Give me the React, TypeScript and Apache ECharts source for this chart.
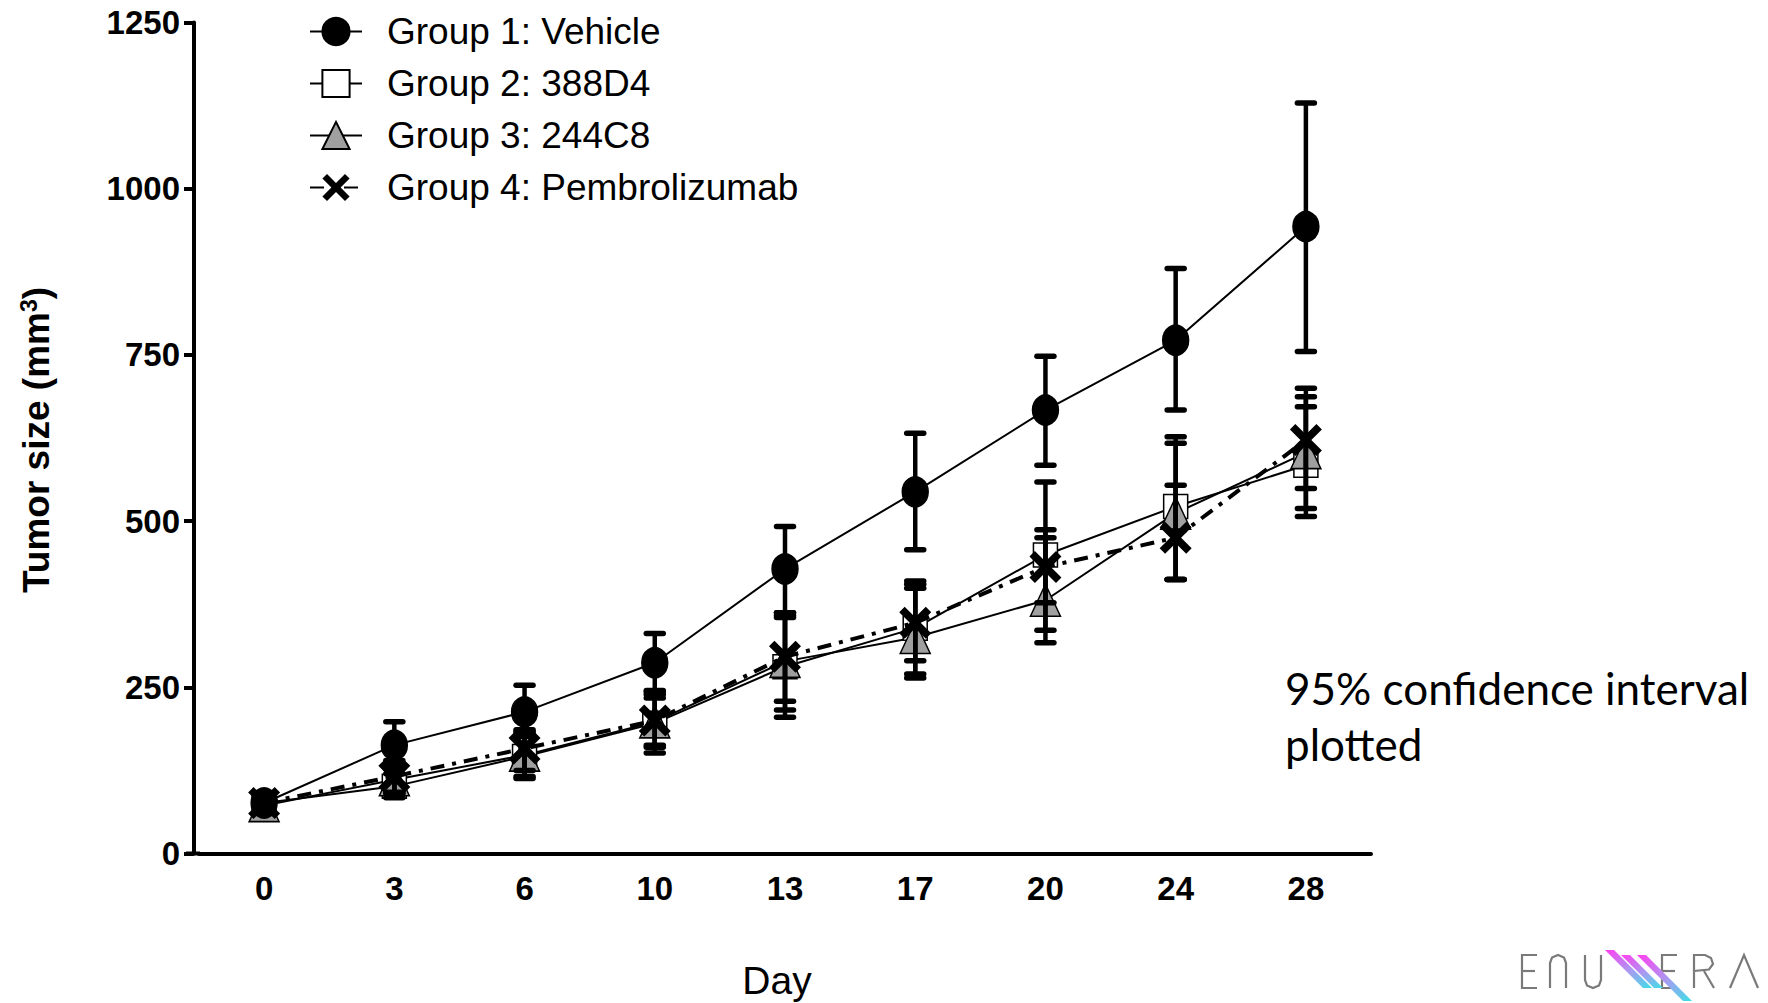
import React, { useEffect, useRef } from "react";
import * as echarts from "echarts";

const days = ["0", "3", "6", "10", "13", "17", "20", "24", "28"];
const seriesNames = ["Group 1: Vehicle", "Group 2: 388D4", "Group 3: 244C8", "Group 4: Pembrolizumab"];

const vehicleMean = [76, 163, 213, 287, 428, 544, 667, 772, 943];
const vehicleLow = [70, 128, 176, 243, 362, 457, 584, 667, 755];
const vehicleHigh = [82, 198, 253, 331, 492, 632, 748, 880, 1129];

const g2Mean = [76, 101, 146, 196, 281, 339, 449, 522, 584];
const g2Low = [70, 84, 113, 151, 205, 270, 336, 412, 507];
const g2High = [82, 120, 181, 239, 355, 405, 559, 627, 672];

const g3Mean = [72, 111, 148, 198, 289, 325, 381, 512, 603];
const g3Low = [66, 90, 116, 163, 216, 264, 317, 412, 519];
const g3High = [80, 132, 184, 234, 358, 399, 475, 617, 687];

const g4Mean = [76, 116, 158, 200, 296, 347, 431, 475, 622];
const g4Low = [70, 92, 125, 160, 229, 290, 377, 412, 549];
const g4High = [82, 140, 186, 245, 362, 410, 487, 554, 700];

const yTicks = [0, 250, 500, 750, 1000, 1250];

const FONT = "Liberation Sans";
const X_PATH =
  "path://M1.7,0 L5,3.3 L8.3,0 L10,1.7 L6.7,5 L10,8.3 L8.3,10 L5,6.7 L1.7,10 L0,8.3 L3.3,5 L0,1.7 Z";

function errorSeries(low: number[], high: number[], z: number) {
  return {
    type: "custom",
    z,
    silent: true,
    encode: { x: 0, y: [1, 2] },
    data: days.map((_, i) => [i, low[i], high[i]]),
    renderItem: (params: any, api: any) => {
      const x = api.value(0);
      const lo = api.coord([x, api.value(1)]);
      const hi = api.coord([x, api.value(2)]);
      const hw = 8.5;
      const st = { stroke: "#000", lineWidth: 4.5 };
      const cap = { stroke: "#000", lineWidth: 5.5, lineCap: "round" };
      return {
        type: "group",
        children: [
          { type: "line", shape: { x1: lo[0], y1: lo[1], x2: hi[0], y2: hi[1] }, style: st },
          { type: "line", shape: { x1: hi[0] - hw, y1: hi[1], x2: hi[0] + hw, y2: hi[1] }, style: cap },
          { type: "line", shape: { x1: lo[0] - hw, y1: lo[1], x2: lo[0] + hw, y2: lo[1] }, style: cap },
        ],
      };
    },
  };
}

function logoElements() {
  const gray = { stroke: "#7a7a7a", lineWidth: 2.2, fill: "none" };
  const grad = new echarts.graphic.LinearGradient(0, 0, 1, 1, [
    { offset: 0, color: "#ff3ff0" },
    { offset: 0.55, color: "#a79cf2" },
    { offset: 1, color: "#3fe0e6" },
  ]);
  const stripe = (tx: number, ty: number, L: number) => ({
    type: "polygon",
    shape: { points: [[tx, ty], [tx + 9, ty], [tx + 9 + L, ty + L], [tx + L, ty + L]] },
    style: { fill: grad },
  });
  return [
    { type: "polyline", shape: { points: [[1537, 955], [1522, 955], [1522, 988], [1537, 988]] }, style: gray },
    { type: "line", shape: { x1: 1522, y1: 971, x2: 1535, y2: 971 }, style: gray },
    { type: "polyline", shape: { points: [[1550, 988], [1550, 963], [1552, 957.5], [1558, 955], [1564, 957.5], [1566, 963], [1566, 988]] }, style: gray },
    { type: "polyline", shape: { points: [[1585, 955], [1585, 980], [1587, 985.5], [1593, 988], [1599, 985.5], [1601, 980], [1601, 955]] }, style: gray },
    { type: "polyline", shape: { points: [[1677, 955], [1662, 955], [1662, 988], [1677, 988]] }, style: gray },
    { type: "line", shape: { x1: 1662, y1: 971, x2: 1675, y2: 971 }, style: gray },
    { type: "polyline", shape: { points: [[1694, 988], [1694, 955], [1705, 955], [1711, 958], [1713, 964], [1709, 969.5], [1694, 971]] }, style: gray },
    { type: "line", shape: { x1: 1704, y1: 971, x2: 1714, y2: 988 }, style: gray },
    { type: "polyline", shape: { points: [[1730, 988], [1744, 955], [1758, 988]] }, style: gray },
    stripe(1605, 950, 38),
    stripe(1621, 955, 33),
    stripe(1637, 955, 46),
  ];
}

export default function App() {
  const ref = useRef<HTMLDivElement>(null);

  useEffect(() => {
    if (!ref.current) return;
    const chart = echarts.init(ref.current, undefined, { renderer: "svg" });

    const lineBase = (name: string, data: number[], symbol: string, size: any, fill: string, lineStyle: any, z: number) => ({
      name,
      type: "line",
      data,
      symbol,
      symbolSize: size,
      z,
      lineStyle: { color: "#000", width: 2, ...lineStyle },
      itemStyle: { color: fill, borderColor: "#000", borderWidth: 1.5 },
      emphasis: { disabled: true },
    });

    const option: any = {
      animation: false,
      backgroundColor: "#fff",
      textStyle: { fontFamily: FONT },
      grid: { left: 199, width: 1172, top: 22.5, height: 831, containLabel: false, outerBoundsMode: "none" },
      legend: {
        orient: "vertical",
        left: 304,
        top: 8,
        itemWidth: 52,
        itemHeight: 34,
        itemGap: 15,
        selectedMode: false,
        data: seriesNames,
        textStyle: { fontSize: 37, fontFamily: FONT, color: "#000", padding: [0, 0, 0, 20] },
      },
      xAxis: {
        type: "category",
        data: days,
        boundaryGap: true,
        name: "Day",
        nameLocation: "middle",
        nameGap: 107,
        nameTextStyle: { fontSize: 39, fontFamily: FONT, color: "#000", padding: [0, 16, 0, 0] },
        axisLine: { lineStyle: { color: "#000", width: 4 } },
        axisTick: { alignWithLabel: true, length: 11, lineStyle: { color: "#000", width: 4 } },
        axisLabel: { fontSize: 33, fontWeight: "bold", color: "#000", margin: 18, fontFamily: FONT },
        splitLine: { show: false },
      },
      yAxis: {
        type: "value",
        min: 0,
        max: 1250,
        interval: 250,
        offset: 5,
        axisLine: { show: true, lineStyle: { color: "#000", width: 4 } },
        axisTick: { show: true, length: 10, lineStyle: { color: "#000", width: 4 } },
        axisLabel: {
          fontSize: 33,
          fontWeight: "bold",
          color: "#000",
          margin: 14,
          fontFamily: FONT,
          formatter: (v: number) => (yTicks.includes(v) ? String(v) : ""),
        },
        splitLine: { show: false },
      },
      graphic: [
        { type: "line", shape: { x1: 186, y1: 853.5, x2: 200, y2: 853.5 }, style: { stroke: "#000", lineWidth: 4 } },
        {
          type: "text",
          x: 36,
          y: 440,
          rotation: Math.PI / 2,
          style: {
            text: "{a|Tumor size (mm}{s|3}{a|)}",
            align: "center",
            verticalAlign: "middle",
            rich: {
              a: { fontSize: 37, fontWeight: "bold", fontFamily: FONT, fill: "#000", color: "#000" },
              s: { fontSize: 23, fontWeight: "bold", fontFamily: FONT, fill: "#000", color: "#000", verticalAlign: "top", padding: [0, 0, 13, 0] },
            },
          },
        },
        {
          type: "text",
          x: 1285,
          y: 688,
          style: { text: "95% confidence interval", fontSize: 44, fontFamily: "Lato", fill: "#000", align: "left", verticalAlign: "middle" },
        },
        {
          type: "text",
          x: 1285,
          y: 744,
          style: { text: "plotted", fontSize: 44, fontFamily: "Lato", fill: "#000", align: "left", verticalAlign: "middle" },
        },
        ...logoElements(),
      ],
      series: [
        lineBase(seriesNames[0], vehicleMean, "circle", [26, 30], "#000", {}, 5),
        lineBase(seriesNames[1], g2Mean, "rect", 24, "#fff", {}, 4),
        lineBase(seriesNames[2], g3Mean, "triangle", [30, 32], "#a0a0a0", {}, 4),
        {
          ...lineBase(seriesNames[3], g4Mean, X_PATH, 32, "#000", { width: 4, type: [14, 8, 4, 8] }, 6),
          itemStyle: { color: "#000", borderWidth: 0 },
        },
        errorSeries(vehicleLow, vehicleHigh, 7),
        errorSeries(g2Low, g2High, 7),
        errorSeries(g3Low, g3High, 7),
        errorSeries(g4Low, g4High, 7),
      ],
    };

    chart.setOption(option);
    return () => chart.dispose();
  }, []);

  return <div ref={ref} style={{ position: "fixed", left: 0, top: 0, width: 1768, height: 1003, background: "#fff" }} />;
}
